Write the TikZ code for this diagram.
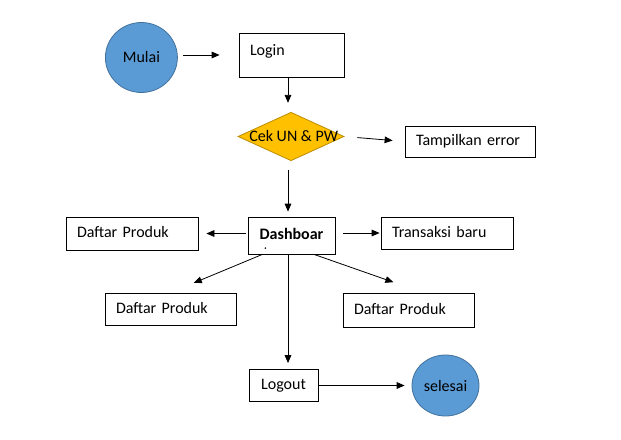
\documentclass[tikz,border=0pt]{standalone}
\usepackage{fontspec}
\setmainfont{Carlito}
\usetikzlibrary{shapes.geometric,arrows.meta}

\definecolor{termfill}{HTML}{5B9BD5}
\definecolor{termline}{HTML}{41719C}
\definecolor{cekfill}{HTML}{FFC000}
\definecolor{cekline}{HTML}{BC8C00}

\begin{document}
\begin{tikzpicture}[x=0.75pt,y=-0.75pt]
    		\newcommand{\px}{0.75pt} % one pixel of the reference
    		\newcommand{\pad}{8.25pt} % left room of the texts
    		\newcommand{\txt}{\fontsize{12}{14}\selectfont} % text size
    		
    		% set the styles of the shapes and arrows
    		\tikzset{
    			box/.style={
    				draw,
    				line width=0.6pt,
    				inner sep=0pt,
    				text height=8.5pt,
    				text depth=2.5pt,
    				font=\txt
    				},
    			lbox/.style={
    				box,
    				align=left,
    				inner xsep=\pad
    				},
    			terminal/.style={
    				ellipse,
    				draw=termline,
    				fill=termfill,
    				line width=0.6pt,
    				inner sep=0pt,
    				font=\txt
    				},
    			decision/.style={
    				diamond,
    				draw=cekline,
    				fill=cekfill,
    				line width=0.6pt,
    				inner sep=0pt
    				},
    			arr/.style={
    				-{Triangle[length=6pt,width=5pt]},
    				line width=0.6pt
    				}
    		}
    		
    		\useasboundingbox (0,0) rectangle (621,439);
    		\coordinate (axis) at (288,0);
    		
    		% shapes
    		\node[terminal, minimum width=72*\px, minimum height=70*\px] (mulai) at (141.4,57.5) {Mulai};
    		\node[lbox, text width=62.25pt, minimum height=44*\px, text depth=8.5pt] (login) at (291.5,55) {Login};
    		\node[decision, minimum width=106*\px, minimum height=48.5*\px, label={[font=\txt, xshift=2pt]center:Cek UN \& PW}] (cek) at (291,136.5) {};
    		\node[lbox, text width=81pt, minimum height=31*\px] (tampil) at (470,141.5) {Tampilkan error};
    		\node[box, minimum width=87*\px, minimum height=37*\px, font=\txt\bfseries] (dash) at (291.5,235.5) {Dashboar};
    		\fill (dash.south west) ++(17.7,-6.3) circle (0.9);
    		\node[lbox, text width=82.5pt, minimum height=33*\px] (dpkiri) at (132,233.5) {Daftar Produk};
    		\node[lbox, text width=82.5pt, minimum height=32*\px] (trans) at (447,233) {Transaksi baru};
    		\node[lbox, text width=81.75pt, minimum height=32*\px] (dpbawah) at (170.5,309) {Daftar Produk};
    		\node[lbox, text width=81.75pt, minimum height=34*\px] (dpkanan) at (408.5,310) {Daftar Produk};
    		\node[box, minimum width=69*\px, minimum height=32*\px] (logout) at (283.5,385.5) {Logout};
    		\node[terminal, minimum width=67*\px, minimum height=61*\px] (selesai) at (445.5,385.5) {selesai};
    		
    		% arrows
    		\draw[arr, shorten <=3.75pt, shorten >=14.25pt] (login.west -| mulai.east) -- (login.west);
    		\draw[arr, shorten <=0.75pt, shorten >=6.75pt] (login.south -| axis) -- (cek.north -| axis);
    		\draw[arr, shorten <=9.75pt, shorten >=9pt] (cek.east) -- (tampil.west);
    		\draw[arr, shorten <=7pt, shorten >=3.75pt] (cek.south -| axis) -- (dash.north -| axis);
    		\draw[arr, shorten <=1pt, shorten >=6pt] (dpkiri.east -| dash.west) -- (dpkiri.east);
    		\draw[arr, shorten <=6pt, shorten >=0.75pt] (trans.west -| dash.east) -- (trans.west);
    		\draw[arr, shorten >=18.9pt] (dash.213) -- (dpbawah.north);
    		\draw[arr, shorten >=23.6pt] (dash.-40) -- (dpkanan.50);
    		\draw[arr, shorten <=0.75pt, shorten >=4.5pt] (dash.south -| axis) -- (logout.north -| axis);
    		\draw[arr, shorten >=5.25pt] (logout.east) -- (selesai.west);
    		
\end{tikzpicture}
\end{document}
